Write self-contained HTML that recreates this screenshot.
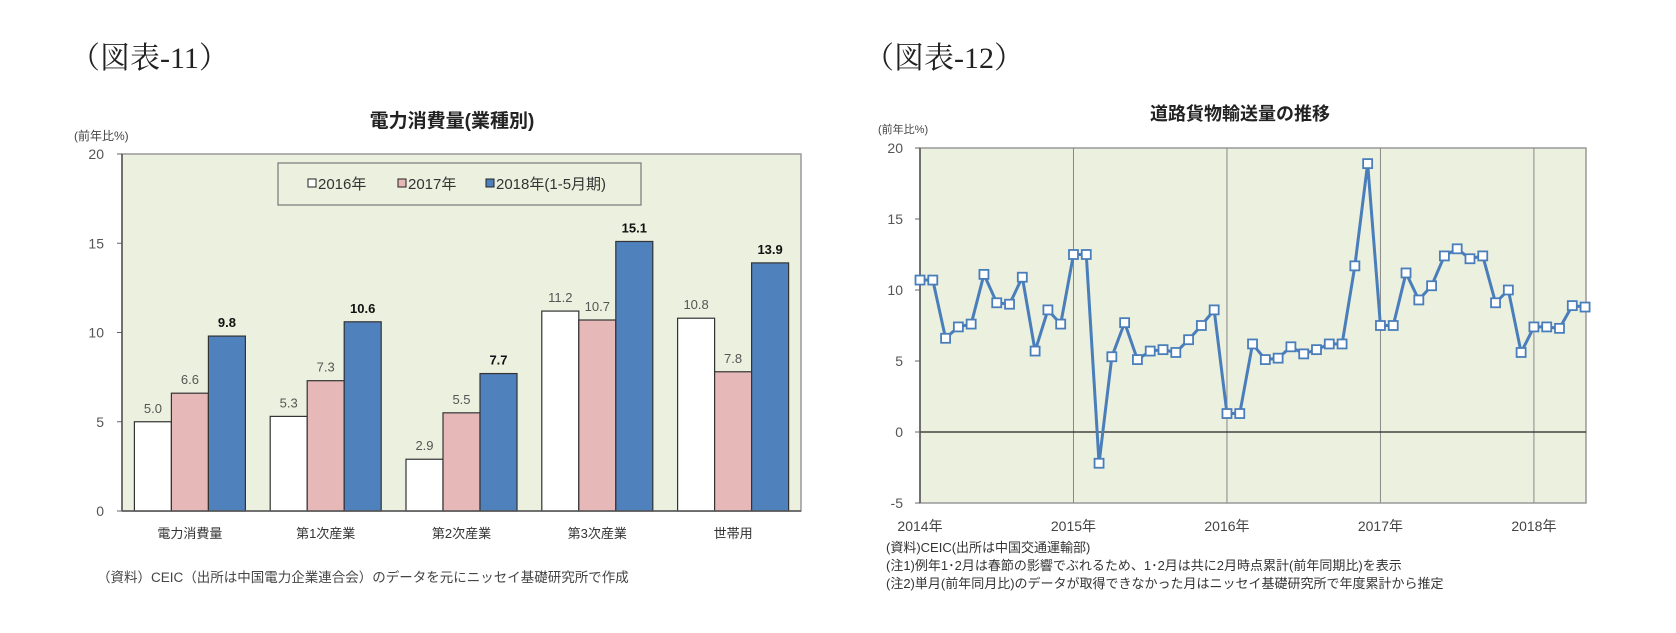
<!DOCTYPE html>
<html><head><meta charset="utf-8">
<style>
body{margin:0;background:#fff;width:1676px;height:628px;overflow:hidden;font-family:"Liberation Sans","Noto Sans CJK JP",sans-serif;}
svg text{font-family:"Liberation Sans","Noto Sans CJK JP",sans-serif;}
svg text.hdr{font-family:"Liberation Serif","Noto Serif CJK SC",serif;}
</style></head>
<body>
<svg width="1676" height="628" viewBox="0 0 1676 628">
<text class="hdr" x="70" y="68" font-size="30" fill="#222">（図表-11）</text>
<text class="hdr" x="864" y="68" font-size="30" fill="#222">（図表-12）</text>
<g id="left"></g>
<g id="right"></g>
</svg>
<script>
const barCats=["電力消費量","第1次産業","第2次産業","第3次産業","世帯用"];
const s2016=[5.0,5.3,2.9,11.2,10.8];
const s2017=[6.6,7.3,5.5,10.7,7.8];
const s2018=[9.8,10.6,7.7,15.1,13.9];
const barTicks=[0,5,10,15,20];
const lineVals=[10.7,10.7,6.6,7.4,7.6,11.1,9.1,9.0,10.9,5.7,8.6,7.6,
12.5,12.5,-2.2,5.3,7.7,5.1,5.7,5.8,5.6,6.5,7.5,8.6,
1.3,1.3,6.2,5.1,5.2,6.0,5.5,5.8,6.2,6.2,11.7,18.9,
7.5,7.5,11.2,9.3,10.3,12.4,12.9,12.2,12.4,9.1,10.0,5.6,
7.4,7.4,7.3,8.9,8.8];
const lineTicks=[-5,0,5,10,15,20];
const yearLabels=["2014年","2015年","2016年","2017年","2018年"];

const NS="http://www.w3.org/2000/svg";
function mk(p,tag,at,txt){const e=document.createElementNS(NS,tag);for(const k in at)e.setAttribute(k,at[k]);if(txt!==undefined)e.textContent=txt;p.appendChild(e);return e;}

// ---- left bar chart ----
const L=document.getElementById('left');
const lx0=122,lx1=801,ly0=154,ly1=511;
const ly=v=>ly1-(v-0)/20*(ly1-ly0);
let e;
e=mk(L,'rect',{x:lx0,y:ly0,width:lx1-lx0,height:ly1-ly0,fill:'#ebf0df',stroke:'#999','stroke-width':1.5});

e=mk(L,'text',{x:452,y:127,'font-size':19,'font-weight':'bold','text-anchor':'middle',fill:'#222'},'電力消費量(業種別)');

e=mk(L,'text',{x:74,y:140,'font-size':12,fill:'#444'},'(前年比%)');

barTicks.forEach(t=>{
 e=mk(L,'text',{x:104,y:ly(t)+5,'font-size':14,'text-anchor':'end',fill:'#555'},String(t));
 
 mk(L,'line',{x1:lx0-5,x2:lx0,y1:ly(t),y2:ly(t),stroke:'#666'});
});
const gw=(lx1-lx0)/barCats.length,bw=37;
const series=[[s2016,'#ffffff',false,'2016'],[s2017,'#e6b8b7',false,'2017'],[s2018,'#4f81bd',true,'2018']];
barCats.forEach((c,i)=>{
 const gx=lx0+i*gw+(gw-3*bw)/2;
 series.forEach((s,j)=>{
  const v=s[0][i],x=gx+j*bw;
  e=mk(L,'rect',{x:x,y:ly(v),width:bw,height:ly1-ly(v),fill:s[1],stroke:'#333','stroke-width':1.2});
  
  e=mk(L,'text',{x:x+bw/2,y:ly(v)-9,'font-size':13,'text-anchor':'middle',fill:s[2]?'#111':'#555','font-weight':s[2]?'bold':'normal'},v.toFixed(1));
  
 });
 e=mk(L,'text',{x:lx0+i*gw+gw/2,y:538,'font-size':13,'text-anchor':'middle',fill:'#333'},c);
 
});
mk(L,'line',{x1:lx0,x2:lx1,y1:ly1,y2:ly1,stroke:'#555','stroke-width':1.5});
mk(L,'line',{x1:lx0,x2:lx0,y1:ly0,y2:ly1,stroke:'#555','stroke-width':1.5});
e=mk(L,'rect',{x:278,y:163,width:363,height:42,fill:'#ebf0df',stroke:'#777','stroke-width':1.2});

[[308,'#fff','2016年'],[398,'#e6b8b7','2017年'],[486,'#4f81bd','2018年(1-5月期)']].forEach((l,k)=>{
 mk(L,'rect',{x:l[0],y:179,width:8,height:8,fill:l[1],stroke:'#222'});
 e=mk(L,'text',{x:l[0]+10,y:189,'font-size':15,fill:'#333'},l[2]);
 
});
e=mk(L,'text',{x:97,y:582,'font-size':13.5,fill:'#444'},'（資料）CEIC（出所は中国電力企業連合会）のデータを元にニッセイ基礎研究所で作成');


// ---- right line chart ----
const R=document.getElementById('right');
const rx0=920,rx1=1586,ry0=148,ry1=503,mon=12.79;
const ry=v=>ry1-(v+5)/25*(ry1-ry0);
const rx=i=>rx0+i*mon;
e=mk(R,'rect',{x:rx0,y:ry0,width:rx1-rx0,height:ry1-ry0,fill:'#ebf0df',stroke:'#999','stroke-width':1.5});

e=mk(R,'text',{x:1240,y:120,'font-size':18,'font-weight':'bold','text-anchor':'middle',fill:'#222'},'道路貨物輸送量の推移');

e=mk(R,'text',{x:878,y:133,'font-size':11,fill:'#444'},'(前年比%)');

lineTicks.forEach(t=>{
 e=mk(R,'text',{x:903,y:ry(t)+5,'font-size':14,'text-anchor':'end',fill:'#555'},String(t));
 
 mk(R,'line',{x1:rx0-5,x2:rx0,y1:ry(t),y2:ry(t),stroke:'#666'});
});
yearLabels.forEach((y,k)=>{
 const x=rx(k*12);
 if(k>0) mk(R,'line',{x1:x,x2:x,y1:ry0,y2:ry1,stroke:'#888','stroke-width':1});
 e=mk(R,'text',{x:x,y:531,'font-size':14,'text-anchor':'middle',fill:'#444'},y);
 
});
mk(R,'line',{x1:rx0,x2:rx1,y1:ry(0),y2:ry(0),stroke:'#222','stroke-width':1.2});
mk(R,'line',{x1:rx0,x2:rx0,y1:ry0,y2:ry1,stroke:'#555','stroke-width':1.5});
e=mk(R,'polyline',{points:lineVals.map((v,i)=>rx(i)+','+ry(v)).join(' '),fill:'none',stroke:'#4a7ebb','stroke-width':3});

lineVals.forEach((v,i)=>{
 e=mk(R,'rect',{x:rx(i)-4.5,y:ry(v)-4.5,width:9,height:9,fill:'#fff',stroke:'#4a7ebb','stroke-width':1.8});
 
});
['(資料)CEIC(出所は中国交通運輸部)','(注1)例年1･2月は春節の影響でぶれるため、1･2月は共に2月時点累計(前年同期比)を表示','(注2)単月(前年同月比)のデータが取得できなかった月はニッセイ基礎研究所で年度累計から推定'].forEach((t,k)=>{
 e=mk(R,'text',{x:886,y:552+k*18,'font-size':13,fill:'#333'},t);
 
});
</script>
</body></html>
